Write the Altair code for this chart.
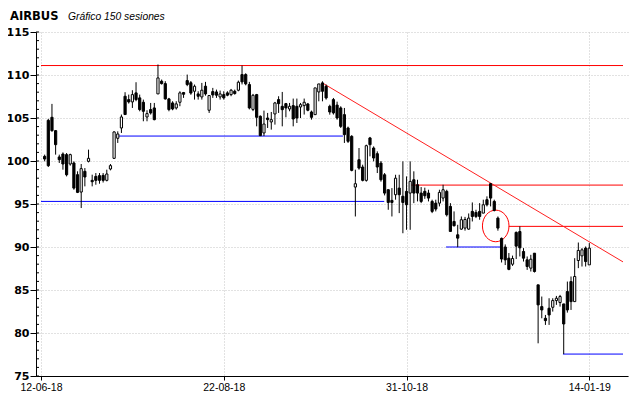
import altair as alt
import pandas as pd

# ---------------- data ----------------
OPEN = [100.54,104.73,105.08,103.53,100.47,100.81,100.74,99.65,99.77,98.41,
        96.39,98.8,99.96,97.75,98.21,98.3,98.33,97.75,99.07,100.31,
        102.64,103.84,107.53,107.14,106.87,107.92,107.34,106.83,105.12,105.98,
        106.17,107.8,109.28,109.0,107.22,106.75,106.17,106.83,107.96,109.35,
        109.1,108.11,107.8,107.45,108.7,105.9,108.07,108.03,107.45,107.72,
        107.92,107.72,108.11,108.23,110.05,110.05,108.89,106.0,107.72,105.2,
        103.26,105.0,104.54,105.47,107.14,106.36,106.67,106.05,106.44,106.36,
        106.28,106.44,106.63,105.7,105.39,108.03,109.08,108.69,106.36,107.14,
        106.5,106.17,105.39,103.84,102.87,96.97,100.15,99.3,97.75,102.68,
        101.51,100.85,99.76,98.4,96.66,95.42,96.08,96.85,95.9,96.47,
        96.27,97.82,97.24,96.27,96.47,96.27,95.3,95.1,95.1,95.69,
        96.47,94.72,92.97,91.42,92.08,92.2,92.08,94.14,94.02,94.14,
        93.94,95.5,97.36,95.3,93.36,91.0,90.0,88.7,88.0,91.7,
        91.8,89.48,88.51,87.54,89.28,85.6,83.07,81.71,82.88,82.99,
        83.77,83.54,83.38,84.82,85.98,83.65,88.43,88.97,89.87,87.92]
HIGH = [100.74,104.9,106.64,103.6,100.74,101.0,100.93,100.85,99.96,98.8,
        99.65,99.18,101.32,98.41,98.6,98.6,98.6,98.99,99.65,103.45,
        103.45,105.4,108.0,107.72,108.23,109.16,107.72,107.14,105.9,106.75,
        106.75,111.22,109.47,109.28,107.34,106.95,106.95,108.11,108.03,110.05,
        109.3,108.89,108.11,109.08,109.2,107.61,108.5,108.3,108.19,108.11,
        108.11,108.38,108.3,109.35,111.1,110.2,109.2,107.8,107.8,105.3,
        105.86,105.59,105.7,106.87,107.53,108.03,106.75,106.75,107.26,107.26,
        106.75,107.26,106.75,105.86,108.5,108.96,109.27,108.89,106.55,107.33,
        106.9,106.36,106.17,104.0,103.0,98.99,101.51,99.57,101.9,102.8,
        101.7,101.12,100.0,98.6,96.7,96.85,98.4,98.4,99.96,98.21,
        99.96,98.8,97.82,96.97,96.9,96.66,95.5,95.5,96.66,97.24,
        96.66,95.1,94.14,92.58,93.55,93.5,93.9,95.18,94.33,95.1,
        95.5,95.89,97.44,95.5,93.55,91.1,90.3,89.3,89.0,91.8,
        92.4,89.87,88.9,89.09,89.28,85.6,84.24,82.1,84.04,84.04,
        84.31,84.43,83.38,85.98,86.57,88.7,90.52,89.87,90.06,90.45]
LOW = [99.96,99.3,103.4,100.74,99.77,98.99,98.21,99.46,96.66,96.27,
       94.53,97.05,99.84,97.05,97.24,97.36,97.5,97.63,98.91,100.23,
       102.1,103.26,105.4,106.68,106.17,106.95,105.78,104.62,104.62,105.4,
       104.73,107.8,108.89,107.14,105.78,105.9,105.98,106.37,107.34,108.7,
       107.7,107.14,107.14,107.14,107.6,105.59,107.34,107.34,107.14,107.14,
       107.53,107.53,107.72,108.11,108.9,108.8,106.0,105.8,104.03,102.9,
       102.9,103.84,103.65,104.23,105.59,104.03,105.08,105.78,104.03,104.42,
       105.0,105.4,105.78,104.81,105.39,106.94,106.94,107.14,105.39,105.4,
       104.8,103.84,102.1,102.1,98.8,93.55,98.99,97.63,97.6,100.54,
       99.96,98.6,97.6,96.0,94.33,93.55,95.5,93.94,91.6,92.0,
       92.0,95.1,95.3,95.1,95.6,95.3,93.94,94.14,94.72,95.3,
       93.55,91.81,92.39,89.98,92.0,91.9,92.0,92.97,93.36,93.17,
       93.94,94.72,94.72,94.14,91.9,88.2,87.9,87.3,87.8,88.6,
       88.9,88.31,87.34,87.15,87.03,78.8,81.71,80.94,80.94,82.49,
       83.27,83.07,77.56,82.37,82.68,83.65,87.54,87.73,87.73,87.92]
CLOSE = [100.23,99.46,103.53,101.9,100.15,99.65,98.4,100.74,96.85,96.35,
         99.11,98.14,100.31,97.59,97.75,97.75,97.75,98.49,99.46,103.38,
         103.14,105.12,105.4,106.87,107.72,107.14,105.98,105.78,105.51,105.59,
         104.81,109.66,109.0,107.22,105.98,106.05,106.64,107.92,107.76,108.89,
         107.9,108.69,107.53,108.23,107.8,107.61,107.68,107.65,107.8,107.34,
         107.65,108.23,107.84,109.16,109.2,108.97,106.17,107.64,105.08,102.95,
         104.3,104.81,104.81,106.75,106.67,105.97,106.17,106.36,104.89,105.0,
         106.55,106.83,105.9,105.08,108.5,108.96,108.11,107.33,105.7,105.59,
         105.0,104.03,103.06,102.29,98.91,97.36,99.18,97.75,101.78,101.9,
         100.35,99.3,97.82,96.27,95.18,95.18,98.0,96.08,95.18,94.91,
         97.63,96.27,96.27,95.3,95.96,95.69,94.14,94.41,96.35,96.66,
         93.75,91.81,92.47,91.03,93.17,93.2,93.36,93.55,93.55,93.55,
         94.91,94.91,95.69,94.25,92.2,88.6,88.5,87.4,88.66,90.1,
         89.9,88.7,87.73,88.58,87.15,83.27,82.68,81.44,82.1,83.77,
         84.04,84.24,81.05,82.68,83.65,86.57,89.6,89.67,88.31,89.87]

TICK_POS = [-1, 49, 99, 149]
TICK_LABELS = ["12-06-18", "22-08-18", "31-10-18", "14-01-19"]
Y_TICKS = [75, 80, 85, 90, 95, 100, 105, 110, 115]
Y_MINOR = list(range(75, 116))
XMIN, XMAX = -1, 158.22

# support / resistance levels: price, start, end, colour
LEVEL_Y = [111.1, 102.9, 95.3, 97.2, 90.0, 92.4, 77.55]
LEVEL_X1 = [XMIN, 19.8, XMIN, 100.1, 109.8, 127.0, 141.8]
LEVEL_X2 = [XMAX, 81.6, 92.9, XMAX, 125.1, XMAX, XMAX]
LEVEL_COL = ["#ff0000", "#0000ff", "#0000ff", "#ff0000", "#0000ff", "#ff0000", "#0000ff"]

TREND_X = [75.9, XMAX]
TREND_Y = [109.1, 88.27]
CIRCLE_X = [123.4]
CIRCLE_Y = [92.45]

TITLE = "AIRBUS"
SUBTITLE = "Gráfico 150 sesiones"

# ---------------- build ----------------
n = len(OPEN)
df = pd.DataFrame({"i": list(range(n)), "o": OPEN, "h": HIGH, "l": LOW, "c": CLOSE})
df["fill"] = ["#ffffff" if c >= o else "#000000" for o, c in zip(OPEN, CLOSE)]

xs = alt.Scale(domain=[XMIN, XMAX], nice=False, zero=False)
ys = alt.Scale(domain=[75, 115], nice=False, zero=False)

label_expr = ""
for p, t in zip(TICK_POS, TICK_LABELS):
    label_expr += f"datum.value == {p} ? '{t}' : "
label_expr += "''"

x_axis = alt.Axis(values=TICK_POS, labelExpr=label_expr, title=None, grid=True,
                  gridColor="#c4c4c4", gridDash=[1, 2], domainColor="#000000",
                  tickColor="#000000", tickSize=4, labelPadding=2,
                  labelFont="Liberation Sans", labelFontSize=10.5, labelColor="#000000")
y_axis = alt.Axis(values=Y_TICKS, title=None, grid=True, gridColor="#c4c4c4",
                  gridDash=[1, 2], domainColor="#000000", tickColor="#000000",
                  tickSize=6, labelPadding=1, labelFont="DejaVu Sans",
                  labelFontSize=11, labelFontWeight="bold", labelColor="#000000")

base = alt.Chart(df)

axes_layer = base.mark_rule(opacity=0).encode(
    x=alt.X("i:Q", scale=xs, axis=x_axis),
    y=alt.Y("l:Q", scale=ys, axis=y_axis),
)

minor = alt.Chart(pd.DataFrame({"v": Y_MINOR})).mark_rule(color="#000000").encode(
    y=alt.Y("v:Q", scale=ys), x=alt.value(0), x2=alt.value(3))

lv = pd.DataFrame({"y": LEVEL_Y, "x1": LEVEL_X1, "x2": LEVEL_X2, "col": LEVEL_COL})
levels = alt.Chart(lv).mark_rule(strokeWidth=1).encode(
    x=alt.X("x1:Q", scale=xs), x2="x2:Q", y=alt.Y("y:Q", scale=ys),
    color=alt.Color("col:N", scale=None))

trend = alt.Chart(pd.DataFrame({"x": TREND_X, "y": TREND_Y})).mark_line(
    color="#ff2020", strokeWidth=1).encode(
    x=alt.X("x:Q", scale=xs), y=alt.Y("y:Q", scale=ys))

ellipse = "M -0.84 0 A 0.84 1 0 1 0 0.84 0 A 0.84 1 0 1 0 -0.84 0 Z"
circle = alt.Chart(pd.DataFrame({"x": CIRCLE_X, "y": CIRCLE_Y})).mark_point(
    shape=ellipse, size=1000, stroke="#ff0000", strokeWidth=1, filled=False,
    opacity=1).encode(x=alt.X("x:Q", scale=xs), y=alt.Y("y:Q", scale=ys))

wicks = base.mark_rule(color="#000000", strokeWidth=1).encode(
    x=alt.X("i:Q", scale=xs), y=alt.Y("l:Q", scale=ys), y2="h:Q")

bodies = base.mark_bar(size=2.2, stroke="#000000", strokeWidth=1).encode(
    x=alt.X("i:Q", scale=xs), y=alt.Y("o:Q", scale=ys), y2="c:Q",
    fill=alt.Fill("fill:N", scale=None))

title = alt.Chart(pd.DataFrame({"t": [TITLE]})).mark_text(
    align="left", baseline="alphabetic", font="DejaVu Sans", fontSize=11.5,
    fontWeight="bold", color="#000000").encode(
    text="t:N", x=alt.value(-26), y=alt.value(-12.5))
subtitle = alt.Chart(pd.DataFrame({"t": [SUBTITLE]})).mark_text(
    align="left", baseline="alphabetic", font="Liberation Sans", fontSize=10.3,
    fontStyle="italic", color="#000000").encode(
    text="t:N", x=alt.value(32), y=alt.value(-12.5))

chart = alt.layer(axes_layer, levels, trend, circle, wicks, bodies, minor,
                  title, subtitle).properties(
    width=592, height=344,
    autosize=alt.AutoSizeParams(type="none"),
    padding={"left": 28, "top": 24, "right": 4, "bottom": 22},
    background="#ffffff",
).configure_view(stroke="transparent")

chart.save("out.html", embed_options={"renderer": "svg", "actions": False})
